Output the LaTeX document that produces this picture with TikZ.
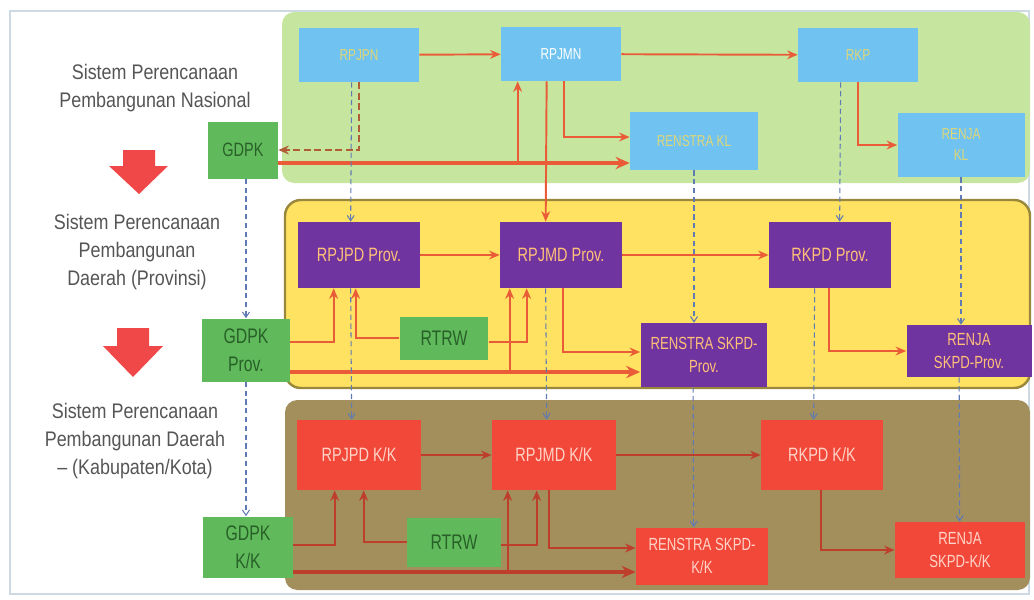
\documentclass[tikz,border=0pt]{standalone}
\usepackage{fontspec}
\setmainfont{Liberation Sans}
\newfontfamily\narrowfont{Liberation Sans}[FakeStretch=0.85]
\newfontfamily\boxfont{Liberation Sans}[FakeStretch=0.75]
\usepackage{tikz}
\usetikzlibrary{arrows.meta, calc}

\definecolor{natpanel}{RGB}{198,230,160}
\definecolor{provpanel}{RGB}{255,226,98}
\definecolor{kkpanel}{RGB}{163,143,92}
\definecolor{natblue}{RGB}{112,195,240}
\definecolor{natlabel}{RGB}{222,214,120}
\definecolor{provpurple}{RGB}{112,52,160}
\definecolor{provlabel}{RGB}{255,192,120}
\definecolor{kkred}{RGB}{242,72,58}
\definecolor{kklabel}{RGB}{255,212,200}
\definecolor{gdpkgreen}{RGB}{96,186,92}
\definecolor{gdpklabel}{RGB}{40,96,40}
\definecolor{flowred}{RGB}{234,92,56}
\definecolor{kkflow}{RGB}{190,62,44}
\definecolor{refblue}{RGB}{96,122,180}
\definecolor{fedbrown}{RGB}{176,92,52}
\definecolor{bigarrow}{RGB}{240,72,72}
\definecolor{sidetext}{RGB}{85,85,85}
\definecolor{frame}{RGB}{205,218,228}

\begin{document}
\begin{tikzpicture}[x=0.02cm, y=-0.02cm,
    box/.style={rectangle, inner sep=0pt, align=center, font=\boxfont\fontsize{11}{14}\selectfont},
    natbox/.style={box, fill=natblue, text=natlabel, minimum width=2.4cm, minimum height=1.08cm, font=\boxfont\fontsize{9}{12}\selectfont},
    provbox/.style={box, fill=provpurple, text=provlabel, minimum width=2.44cm, minimum height=1.32cm},
    kkbox/.style={box, fill=kkred, text=kklabel, minimum width=2.48cm, minimum height=1.4cm},
    gdpkbox/.style={box, fill=gdpkgreen, text=gdpklabel},
    sidelabel/.style={align=center, text=sidetext, font=\narrowfont\fontsize{12}{16}\selectfont},
    flow/.style={draw=flowred, line width=1.1pt, -{Stealth[length=6pt, width=5pt]}},
    mainflow/.style={flow, line width=2pt, -{Stealth[length=8pt, width=7pt]}},
    ref/.style={draw=refblue, line width=0.6pt, dash pattern=on 3pt off 2pt, -{Straight Barb[length=3pt, width=4pt]}},
  ]
    \useasboundingbox (0,0) rectangle (1034,599);
    \draw[frame, line width=0.8pt] (10,11) rectangle (1029,594);

    % panels
    \fill[natpanel, rounded corners=7pt] (282,12) rectangle (1030,183);
    \draw[provpanel!60!black, fill=provpanel, line width=1.4pt, rounded corners=9pt] (285,200) rectangle (1030,388);
    \fill[kkpanel, rounded corners=7pt] (285,400) rectangle (1030,590);

    % side labels
    \node[sidelabel] at (155,88) (labelNas) {Sistem Perencanaan\\Pembangunan Nasional};
    \node[sidelabel] at (137,252) (labelProv) {Sistem Perencanaan\\Pembangunan\\Daerah (Provinsi)};
    \node[sidelabel] at (135,441) (labelKK) {Sistem Perencanaan\\Pembangunan Daerah\\\textendash{} (Kabupaten/Kota)};
    \fill[bigarrow] (123,150) -- (155,150) -- (155,166) -- (168,166) -- (139,194) -- (109,166) -- (123,166) -- cycle;
    \fill[bigarrow] (117,328) -- (149,328) -- (149,346) -- (163,346) -- (133,377) -- (103,346) -- (117,346) -- cycle;

    % nasional
    \node[natbox] at (359,55) (rpjpn) {RPJPN};
    \node[natbox, text=white] at (561,54) (rpjmn) {RPJMN};
    \node[natbox] at (858,55) (rkp) {RKP};
    \node[natbox, minimum width=2.56cm, minimum height=1.16cm] at (694,141) (renstrakl) {RENSTRA KL};
    \node[natbox, minimum width=2.54cm, minimum height=1.28cm] at (961,145) (renjakl) {RENJA\\KL};
    \node[gdpkbox, minimum width=1.4cm, minimum height=1.14cm] at (243,150) (gdpk) {GDPK};

    % provinsi
    \node[provbox] at (359,255) (rpjpdprov) {RPJPD Prov.};
    \node[provbox] at (561,255) (rpjmdprov) {RPJMD Prov.};
    \node[provbox] at (830,255) (rkpdprov) {RKPD Prov.};
    \node[provbox, minimum width=2.54cm, minimum height=1.28cm, font=\boxfont\fontsize{10}{13}\selectfont] at (704,355) (renstraprov) {RENSTRA SKPD-\\Prov.};
    \node[provbox, minimum width=2.5cm, minimum height=1.04cm, font=\boxfont\fontsize{10}{13}\selectfont] at (969,351) (renjaprov) {RENJA\\SKPD-Prov.};
    \node[gdpkbox, minimum width=1.78cm, minimum height=0.86cm, font=\boxfont\fontsize{12}{14}\selectfont] at (444,338) (rtrwprov) {RTRW};
    \node[gdpkbox, minimum width=1.76cm, minimum height=1.26cm, font=\boxfont\fontsize{12}{16}\selectfont] at (246,350) (gdpkprov) {GDPK\\Prov.};

    % kabupaten/kota
    \node[kkbox] at (359,455) (rpjpdkk) {RPJPD K/K};
    \node[kkbox] at (554,455) (rpjmdkk) {RPJMD K/K};
    \node[kkbox, minimum width=2.44cm] at (822,455) (rkpdkk) {RKPD K/K};
    \node[kkbox, minimum width=2.64cm, minimum height=1.14cm, font=\boxfont\fontsize{10}{13}\selectfont] at (702,556) (renstrakk) {RENSTRA SKPD-\\K/K};
    \node[kkbox, minimum width=2.6cm, minimum height=1.12cm, font=\boxfont\fontsize{10}{13}\selectfont] at (960,550) (renjakk) {RENJA\\SKPD-K/K};
    \node[gdpkbox, minimum width=1.88cm, minimum height=0.98cm, font=\boxfont\fontsize{12}{14}\selectfont] at (454,542) (rtrwkk) {RTRW};
    \node[gdpkbox, minimum width=1.8cm, minimum height=1.22cm, font=\boxfont\fontsize{12}{16}\selectfont] at (248,547) (gdpkkk) {GDPK\\K/K};

    % nasional connectors
    \draw[flow] (rpjpn) -- (rpjmn);
    \draw[flow] (rpjmn) -- (rkp);
    \draw[flow] ($(rpjmn.south)+(3,0)$) |- ($(renstrakl.west)+(0,-4)$);
    \draw[flow] (rkp.south) |- (renjakl.west);
    \draw[draw=fedbrown, line width=1.6pt, dash pattern=on 4pt off 2pt, -{Stealth[length=6pt, width=5pt]}] (rpjpn.south) |- (gdpk.east);
    \coordinate (g0) at ($(gdpk.east)+(0,13)$);
    \coordinate (up0) at ($(rpjmn.south west)+(17,0)$);
    \draw[mainflow] (g0) -- (g0 -| renstrakl.west);
    \draw[flow] (g0 -| up0) -- (up0);
    \draw[flow] ($(rpjmn.south west)+(46,0)$) -- ($(rpjmdprov.north west)+(46,0)$);
    \draw[ref] ($(rpjpn.south west)+(53,0)$) -- ($(rpjpdprov.north west)+(53,0)$);
    \draw[ref] (renstrakl.south) -- (renstrakl.south |- renstraprov.north);
    \draw[ref] ($(rkp.south west)+(43,0)$) -- ($(rkpdprov.north west)+(71,0)$);
    \draw[ref] (renjakl.south) -- (renjakl.south |- renjaprov.north);
    \draw[ref] (gdpkprov.north |- gdpk.south) -- (gdpkprov.north);

    % provinsi connectors
    \draw[flow] (rpjpdprov) -- (rpjmdprov);
    \draw[flow] (rpjmdprov) -- (rkpdprov);
    \draw[flow] ($(gdpkprov.east)+(0,-8)$) -| ($(rpjpdprov.south west)+(36,0)$);
    \draw[flow] (rtrwprov.west) -| ($(rpjpdprov.south west)+(58,0)$);
    \draw[flow] ($(rtrwprov.east)+(0,4)$) -| ($(rpjmdprov.south west)+(27,0)$);
    \coordinate (g1) at ($(gdpkprov.east)+(0,22)$);
    \coordinate (up1) at ($(rpjmdprov.south west)+(10,0)$);
    \draw[mainflow] (g1) -- (g1 -| renstraprov.west);
    \draw[flow] (g1 -| up1) -- (up1);
    \draw[flow] ($(rpjmdprov.south west)+(63,0)$) |- ($(renstraprov.west)+(0,-3)$);
    \draw[flow] ($(rkpdprov.south west)+(60,0)$) |- (renjaprov.west);
    \draw[ref] (gdpkprov.south) -- (gdpkprov.south |- gdpkkk.north);
    \draw[ref] ($(rpjpdprov.south west)+(53,0)$) -- ($(rpjpdkk.north west)+(55,0)$);
    \draw[ref] ($(rpjmdprov.south west)+(46,0)$) -- ($(rpjmdkk.north west)+(55,0)$);
    \draw[ref] ($(renstraprov.south west)+(53,0)$) -- ($(renstrakk.north west)+(58,0)$);
    \draw[ref] ($(rkpdprov.south west)+(46,0)$) -- ($(rkpdkk.north west)+(53,0)$);
    \draw[ref] ($(renjaprov.south west)+(53,0)$) -- ($(renjakk.north west)+(65,0)$);

    % kabupaten/kota connectors
    \draw[flow, draw=kkflow] (rpjpdkk) -- (rpjmdkk);
    \draw[flow, draw=kkflow] (rpjmdkk) -- (rkpdkk);
    \draw[flow, draw=kkflow] ($(gdpkkk.east)+(0,-2)$) -| ($(rpjpdkk.south west)+(38,0)$);
    \draw[flow, draw=kkflow] (rtrwkk.west) -| ($(rpjpdkk.south west)+(67,0)$);
    \draw[flow, draw=kkflow] ($(rtrwkk.east)+(0,3)$) -| ($(rpjmdkk.south west)+(45,0)$);
    \coordinate (g2) at ($(gdpkkk.east)+(0,25)$);
    \coordinate (up2) at ($(rpjmdkk.south west)+(16,0)$);
    \draw[mainflow, draw=kkflow] (g2) -- (g2 -| renstrakk.west);
    \draw[flow, draw=kkflow] (g2 -| up2) -- (up2);
    \draw[flow, draw=kkflow] ($(rpjmdkk.south west)+(57,0)$) |- ($(renstrakk.west)+(0,-8)$);
    \draw[flow, draw=kkflow] ($(rkpdkk.south west)+(60,0)$) |- (renjakk.west);
\end{tikzpicture}
\end{document}
